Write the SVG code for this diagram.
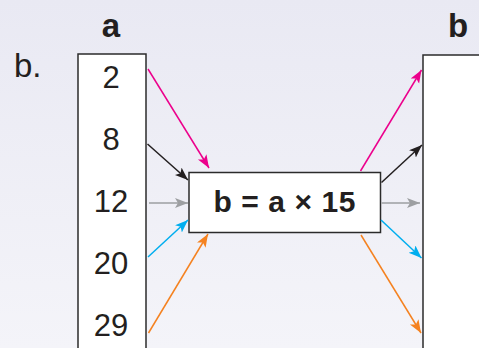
<svg xmlns="http://www.w3.org/2000/svg" width="479" height="348" viewBox="0 0 479 348">
<style>
.box{fill:#fff;stroke:#2b2b2b;stroke-width:1.5}
.num{font-family:"Liberation Sans",Arial,sans-serif;font-size:31px;fill:#231f20;text-anchor:middle}
.ttl{font-family:"Liberation Sans",Arial,sans-serif;font-size:33px;font-weight:bold;fill:#231f20;text-anchor:middle}
.ln{stroke-width:1.5;fill:none}
</style>
<defs>
<linearGradient id="bg" x1="0" y1="0" x2="0" y2="1">
<stop offset="0" stop-color="#e9e9f3"/>
<stop offset="1" stop-color="#f4f4f9"/>
</linearGradient>
<marker id="mP" markerUnits="userSpaceOnUse" markerWidth="14" markerHeight="12" refX="13" refY="5" orient="auto"><path d="M0,0 L13,5 L0,10 L3,5 z" fill="#ec008c"/></marker>
<marker id="mK" markerUnits="userSpaceOnUse" markerWidth="14" markerHeight="12" refX="13" refY="5" orient="auto"><path d="M0,0 L13,5 L0,10 L3,5 z" fill="#231f20"/></marker>
<marker id="mG" markerUnits="userSpaceOnUse" markerWidth="14" markerHeight="12" refX="13" refY="5" orient="auto"><path d="M0,0 L13,5 L0,10 L3,5 z" fill="#9d9fa2"/></marker>
<marker id="mB" markerUnits="userSpaceOnUse" markerWidth="14" markerHeight="12" refX="13" refY="5" orient="auto"><path d="M0,0 L13,5 L0,10 L3,5 z" fill="#00aeef"/></marker>
<marker id="mO" markerUnits="userSpaceOnUse" markerWidth="14" markerHeight="12" refX="13" refY="5" orient="auto"><path d="M0,0 L13,5 L0,10 L3,5 z" fill="#f58220"/></marker>
</defs>
<rect x="0" y="0" width="479" height="348" fill="url(#bg)"/>
<text x="14" y="77" font-family="Liberation Sans,Arial,sans-serif" font-size="33" fill="#231f20">b.</text>
<g id="colA">
<text class="ttl" x="111" y="37">a</text>
<rect class="box" x="78" y="54" width="68" height="300"/>
<text class="num" x="111" y="88">2</text>
<text class="num" x="111" y="150">8</text>
<text class="num" x="111" y="212">12</text>
<text class="num" x="111" y="274">20</text>
<text class="num" x="111" y="336">29</text>
</g>
<g id="colB">
<text class="ttl" x="458" y="37">b</text>
<rect class="box" x="423" y="55" width="70" height="300"/>
</g>
<g id="func">
<rect class="box" x="189" y="172.5" width="191.5" height="60"/>
<text x="284.5" y="212" font-family="Liberation Sans,Arial,sans-serif" font-size="30" font-weight="bold" fill="#231f20" text-anchor="middle" textLength="142" lengthAdjust="spacing">b = a × 15</text>
</g>
<g id="connectors">
<line class="ln" x1="148" y1="69" x2="209" y2="168" stroke="#ec008c" marker-end="url(#mP)"/>
<line class="ln" x1="147.5" y1="144" x2="188" y2="180" stroke="#231f20" marker-end="url(#mK)"/>
<line class="ln" x1="149" y1="203" x2="188" y2="203" stroke="#9d9fa2" marker-end="url(#mG)"/>
<line class="ln" x1="148" y1="257" x2="188" y2="220" stroke="#00aeef" marker-end="url(#mB)"/>
<line class="ln" x1="148.5" y1="333" x2="208" y2="234" stroke="#f58220" marker-end="url(#mO)"/>
<line class="ln" x1="360.5" y1="171" x2="421.5" y2="70" stroke="#ec008c" marker-end="url(#mP)"/>
<line class="ln" x1="381.5" y1="182.5" x2="422" y2="145" stroke="#231f20" marker-end="url(#mK)"/>
<line class="ln" x1="381.5" y1="203" x2="420" y2="203" stroke="#9d9fa2" marker-end="url(#mG)"/>
<line class="ln" x1="381" y1="220" x2="421.5" y2="258" stroke="#00aeef" marker-end="url(#mB)"/>
<line class="ln" x1="361" y1="235" x2="421" y2="333" stroke="#f58220" marker-end="url(#mO)"/>
</g>
</svg>
